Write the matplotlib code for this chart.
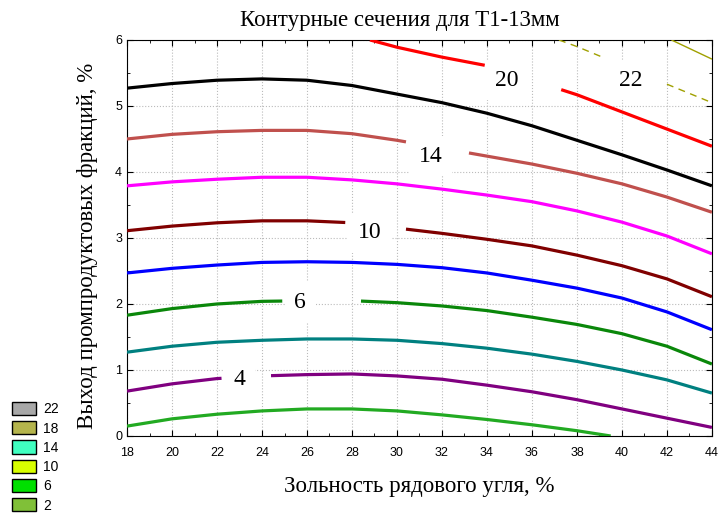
import numpy as np
import matplotlib.pyplot as plt
from matplotlib.patches import Patch

# contour lines: (x = зольность, y = выход)
xs = [18, 20, 22, 24, 26, 28, 30, 32, 34, 36, 38, 40, 42, 44]
c2_x = [18, 20, 22, 24, 26, 28, 30, 32, 34, 36, 38, 39.5]
c2_y = [0.15, 0.26, 0.33, 0.38, 0.41, 0.41, 0.38, 0.32, 0.25, 0.17, 0.08, 0.0]
c4_y = [0.68, 0.79, 0.87, 0.91, 0.93, 0.94, 0.91, 0.86, 0.77, 0.67, 0.55, 0.41, 0.27, 0.13]
c5_y = [1.27, 1.36, 1.42, 1.45, 1.47, 1.47, 1.45, 1.40, 1.33, 1.24, 1.13, 1.00, 0.85, 0.65]
c6_y = [1.83, 1.93, 2.00, 2.04, 2.05, 2.05, 2.02, 1.97, 1.90, 1.80, 1.69, 1.55, 1.36, 1.09]
c8_y = [2.47, 2.54, 2.59, 2.63, 2.64, 2.63, 2.60, 2.55, 2.47, 2.36, 2.24, 2.09, 1.88, 1.61]
c10_y = [3.11, 3.18, 3.23, 3.26, 3.26, 3.23, 3.15, 3.07, 2.98, 2.88, 2.74, 2.58, 2.38, 2.11]
c12_y = [3.79, 3.85, 3.89, 3.92, 3.92, 3.88, 3.82, 3.74, 3.65, 3.55, 3.41, 3.24, 3.03, 2.76]
c14_y = [4.50, 4.57, 4.61, 4.63, 4.63, 4.58, 4.48, 4.36, 4.24, 4.12, 3.98, 3.82, 3.62, 3.39]
c16_y = [5.27, 5.34, 5.39, 5.41, 5.39, 5.31, 5.18, 5.05, 4.89, 4.70, 4.48, 4.26, 4.03, 3.79]
c20_x = [28.8, 30, 32, 34, 36, 38, 40, 42, 44]
c20_y = [6.0, 5.89, 5.74, 5.61, 5.39, 5.17, 4.91, 4.65, 4.39]
c22_x = [37.2, 38, 39.2, 40, 42, 44]
c22_y = [6.0, 5.90, 5.73, 5.62, 5.33, 5.05]
c24_x = [42.2, 44]
c24_y = [6.0, 5.71]

legend_levels = ["22", "18", "14", "10", "6", "2"]
legend_colors = ["#a8a8a8", "#b4b44c", "#40ffc0", "#d8ff00", "#00e000", "#80c038"]


def draw(ax, x, y, color, lw=2.3, gap=None, ls="-"):
    x = np.asarray(x, float)
    y = np.asarray(y, float)
    kw = dict(color=color, lw=lw, ls=ls, solid_capstyle="butt", solid_joinstyle="round", zorder=3)
    if gap is None:
        ax.plot(x, y, **kw)
        return
    g0, g1 = gap
    y0, y1 = np.interp(g0, x, y), np.interp(g1, x, y)
    m = x < g0
    ax.plot(np.r_[x[m], g0], np.r_[y[m], y0], **kw)
    m = x > g1
    ax.plot(np.r_[g1, x[m]], np.r_[y1, y[m]], **kw)


fig = plt.figure(figsize=(7.23, 5.15), dpi=100)
ax = fig.add_axes([0.1757, 0.1534, 0.809, 0.769])

draw(ax, c2_x, c2_y, "#22aa22")
draw(ax, xs, c4_y, "#800080", gap=(22.2, 24.4))
draw(ax, xs, c5_y, "#008080")
draw(ax, xs, c6_y, "#0a870a", gap=(24.9, 28.4))
draw(ax, xs, c8_y, "#0000ff")
draw(ax, xs, c10_y, "#800000", gap=(27.7, 30.4))
draw(ax, xs, c12_y, "#ff00ff")
draw(ax, xs, c14_y, "#c0504d", gap=(30.4, 33.2))
draw(ax, xs, c16_y, "#000000")
draw(ax, c20_x, c20_y, "#ff0000", gap=(33.9, 37.3))
draw(ax, c22_x, c22_y, "#a0a000", lw=1.0, gap=(39.2, 42.0), ls=(0, (5, 4)))
draw(ax, c24_x, c24_y, "#a0a000", lw=1.0)

lab_font = dict(family="Liberation Serif", fontsize=17, ha="center", va="center", zorder=2,
                bbox=dict(facecolor="white", edgecolor="none", pad=7))
ax.text(23.0, 0.86, "4", **lab_font)
ax.text(25.7, 2.03, "6", **lab_font)
ax.text(28.8, 3.08, "10", **lab_font)
ax.text(31.5, 4.24, "14", **lab_font)
ax.text(34.9, 5.39, "20", **lab_font)
ax.text(40.4, 5.39, "22", **lab_font)

ax.set_xlim(18, 44)
ax.set_ylim(0, 6)
ax.set_xticks(np.arange(18, 45, 2))
ax.set_xticks(np.arange(18, 45, 1), minor=True)
ax.set_yticks(np.arange(0, 7, 1))
ax.set_yticks(np.arange(0, 6.1, 0.5), minor=True)
ax.tick_params(which="both", direction="in", top=True, right=True, labelsize=9)
ax.tick_params(which="major", length=4)
ax.tick_params(which="minor", length=2)
for t in ax.get_xticklabels() + ax.get_yticklabels():
    t.set_family("Liberation Sans")
ax.tick_params(axis="x", pad=8)
ax.grid(True, which="major", ls=":", color="#bbbbbb", lw=0.8, zorder=0)
ax.set_axisbelow(True)

serif = dict(family="Liberation Serif", fontsize=16.5)
ax.set_title("Контурные сечения для Т1-13мм", x=0.467, pad=10, **serif)
ax.set_xlabel("Зольность рядового угля, %", labelpad=12, **serif)
ax.set_ylabel("Выход промпродуктовых фракций, %", labelpad=9, **serif)
ax.yaxis.set_label_coords(-0.05, 0.48)

handles = [Patch(facecolor=c, edgecolor="black", lw=1) for c in legend_colors]
fig.legend(handles, legend_levels, loc="lower left", bbox_to_anchor=(0.009, -0.006),
           frameon=False, prop={"family": "Liberation Sans", "size": 10},
           handlelength=1.75, handleheight=1.1, labelspacing=0.35, handletextpad=0.5,
           borderaxespad=0)

fig.savefig("out.png", dpi=100)
